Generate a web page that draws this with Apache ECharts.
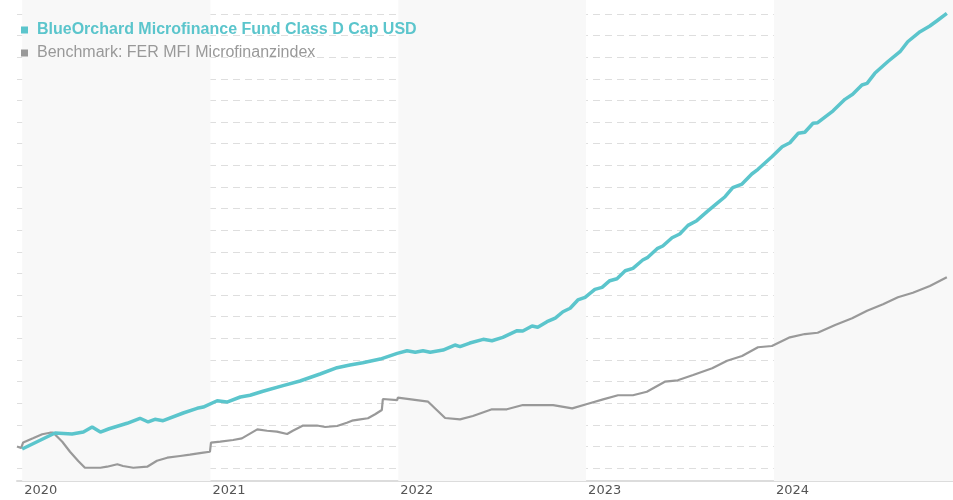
<!DOCTYPE html>
<html>
<head>
<meta charset="utf-8">
<title>BlueOrchard Microfinance Fund</title>
<script src="https://cdn.jsdelivr.net/npm/echarts@6/dist/echarts.min.js"></script>
<style>
  html, body { margin: 0; padding: 0; background: #fff; }
  #chart { width: 953px; height: 500px; }
</style>
</head>
<body>
<div id="chart"></div>
<script>
// Fonds (blau), Werte
var fundDates = [
  '2020-01-01','2020-03-05','2020-04-07','2020-04-29','2020-05-16','2020-06-01','2020-06-18','2020-07-23','2020-08-17','2020-09-02','2020-09-15','2020-10-01','2020-11-09','2020-12-06','2020-12-18',
  '2021-01-14','2021-02-02','2021-02-28','2021-03-19','2021-04-13','2021-05-22','2021-06-24','2021-08-02','2021-09-04','2021-09-29','2021-10-24','2021-11-27','2021-12-30',
  '2022-01-18','2022-02-03','2022-02-18','2022-03-04','2022-03-29','2022-04-21','2022-05-01','2022-05-20','2022-06-15','2022-07-02','2022-07-23','2022-08-20','2022-08-31','2022-09-18','2022-09-29','2022-10-17','2022-11-02','2022-11-17','2022-12-01','2022-12-16','2022-12-30',
  '2023-01-18','2023-02-01','2023-02-16','2023-03-02','2023-03-18','2023-04-02','2023-04-21','2023-05-01','2023-05-19','2023-05-30','2023-06-17','2023-07-02','2023-07-18','2023-08-04','2023-08-24','2023-09-14','2023-09-28','2023-10-13','2023-10-31','2023-11-19','2023-12-01','2023-12-28',
  '2024-01-17','2024-02-01','2024-02-17','2024-03-01','2024-03-17','2024-03-26','2024-04-25','2024-05-18','2024-06-02','2024-06-20','2024-06-30','2024-07-15','2024-08-09','2024-09-02','2024-09-17','2024-10-11','2024-10-30','2024-11-13','2024-12-02'
];
var fundValues = [
  99.70,101.55,101.43,101.66,102.24,101.66,102.04,102.67,103.25,102.82,103.13,102.97,103.86,104.40,104.55,
  105.28,105.13,105.71,105.91,106.37,107.02,107.56,108.37,109.10,109.41,109.68,110.10,110.76,
  111.06,110.88,111.06,110.88,111.14,111.72,111.53,111.95,112.38,112.22,112.61,113.38,113.34,113.92,113.77,114.42,114.84,115.57,115.97,116.93,117.24,
  118.16,118.39,119.16,119.39,120.31,120.59,121.55,121.86,122.86,123.17,124.13,124.56,125.56,126.10,127.14,128.18,128.87,129.91,130.34,131.50,132.04,133.50,
  134.65,135.11,136.20,136.32,137.36,137.43,138.81,140.13,140.71,141.79,141.98,143.14,144.48,145.64,146.79,147.95,148.61,149.22,150.08
];

// Benchmark (grau)
var benchDates = [
  '2019-12-22','2019-12-30','2020-01-03','2020-01-22','2020-02-09','2020-02-24','2020-03-01','2020-03-19','2020-04-03','2020-04-19','2020-05-02','2020-06-01','2020-06-14','2020-07-04','2020-07-15','2020-08-04','2020-08-31','2020-09-19','2020-10-09','2020-11-03','2020-11-22','2020-12-18','2020-12-31',
  '2021-01-02','2021-01-20','2021-02-14','2021-03-03','2021-04-02','2021-04-21','2021-05-10','2021-05-30','2021-06-10','2021-06-30','2021-07-27','2021-08-12','2021-09-04','2021-09-23','2021-10-03','2021-10-19','2021-11-03','2021-11-17','2021-11-30','2021-12-02','2021-12-30','2021-12-31',
  '2022-02-28','2022-04-02','2022-05-01','2022-05-26','2022-07-02','2022-07-31','2022-08-31','2022-10-29','2022-12-05',
  '2023-01-03','2023-02-03','2023-03-04','2023-04-02','2023-04-29','2023-06-03','2023-06-28','2023-07-28','2023-09-03','2023-10-02','2023-10-31','2023-12-01','2023-12-28',
  '2024-02-01','2024-03-01','2024-03-26','2024-04-29','2024-06-01','2024-06-30','2024-07-31','2024-08-29','2024-09-27','2024-10-30','2024-12-02'
];
var benchValues = [
  99.99,99.81,100.45,100.93,101.40,101.58,101.60,100.54,99.38,98.31,97.53,97.53,97.65,97.93,97.73,97.53,97.65,98.34,98.69,98.89,99.04,99.27,99.38,
  100.43,100.54,100.74,100.93,101.97,101.81,101.70,101.43,101.81,102.41,102.41,102.24,102.36,102.74,102.97,103.13,103.25,103.71,104.21,105.48,105.36,105.63,
  105.17,103.28,103.13,103.51,104.29,104.29,104.78,104.78,104.40,
  104.90,105.44,105.91,105.91,106.32,107.48,107.64,108.25,109.03,109.91,110.45,111.46,111.61,
  112.61,112.99,113.14,114.04,114.81,115.69,116.43,117.24,117.77,118.54,119.55
];

var yearTicks = ['2020-01-01','2021-01-01','2022-01-01','2023-01-01','2024-01-01'];
var yearLabels = ['2020','2021','2022','2023','2024'];
var shadedYears = [['2020-01-01','2021-01-01'],['2022-01-01','2023-01-01'],['2024-01-01','2024-12-14']];

var xMin = '2019-12-22';
var xMax = '2024-12-14';

var fundName = 'BlueOrchard Microfinance Fund Class D Cap USD';
var benchName = 'Benchmark: FER MFI Microfinanzindex';

function toTime(s) {
  return echarts.number.parseDate(s).getTime();
}

var tickTimes = yearTicks.map(toTime);

var myChart = echarts.init(document.getElementById('chart'));

var option = {
  animation: false,
  backgroundColor: '#fff',
  legend: {
    orient: 'vertical',
    left: 21,
    top: 21,
    padding: 0,
    icon: 'rect',
    itemWidth: 7,
    itemHeight: 7,
    itemGap: 5,
    selectedMode: false,
    textStyle: {
      fontFamily: 'Liberation Sans, Arial, sans-serif',
      fontSize: 16,
      lineHeight: 18,
      padding: [0, 0, 0, 4]
    },
    data: [
      { name: fundName, textStyle: { color: '#5bc5cc', fontWeight: 'bold' } },
      { name: benchName, textStyle: { color: '#999' } }
    ]
  },
  grid: [
    // Jahresbaender + x-Achse
    { left: 17, right: 0, top: 0, bottom: 19 },
    // Linien + Gitter
    { left: 17, right: 0, top: 14, bottom: 32 }
  ],
  xAxis: [
    {
      type: 'value',
      gridIndex: 0,
      min: toTime(xMin),
      max: toTime(xMax),
      axisLine: { show: true, lineStyle: { color: '#dcdcdc', width: 2 } },
      axisTick: { show: false },
      splitLine: { show: false },
      axisLabel: {
        customValues: tickTimes,
        formatter: function (val) {
          var i = tickTimes.indexOf(val);
          return i >= 0 ? yearLabels[i] : '';
        },
        align: 'left',
        padding: [0, 0, 0, 2],
        margin: 3,
        color: '#555',
        fontSize: 13,
        fontFamily: 'DejaVu Sans, Verdana, sans-serif'
      }
    },
    {
      type: 'value',
      gridIndex: 1,
      min: toTime(xMin),
      max: toTime(xMax),
      show: false
    }
  ],
  yAxis: [
    { type: 'value', gridIndex: 0, min: 0, max: 1, show: false },
    {
      type: 'value',
      gridIndex: 1,
      min: 97.5,
      max: 150,
      interval: 2.5,
      z: 1,
      axisLine: { show: false },
      axisTick: { show: false },
      axisLabel: { show: false },
      splitLine: {
        show: true,
        lineStyle: { color: '#dedede', width: 1, type: [7, 5] }
      }
    }
  ],
  series: [
    {
      name: 'bands',
      type: 'line',
      xAxisIndex: 0,
      yAxisIndex: 0,
      z: -1,
      data: [],
      silent: true,
      markArea: {
        silent: true,
        itemStyle: { color: '#f8f8f8' },
        data: shadedYears.map(function (b) {
          return [{ xAxis: toTime(b[0]) }, { xAxis: toTime(b[1]) }];
        })
      }
    },
    {
      name: benchName,
      type: 'line',
      xAxisIndex: 1,
      yAxisIndex: 1,
      z: 3,
      clip: false,
      showSymbol: false,
      color: '#999',
      lineStyle: { color: '#999', width: 2.2 },
      data: benchDates.map(function (d, i) { return [toTime(d), benchValues[i]]; })
    },
    {
      name: fundName,
      type: 'line',
      xAxisIndex: 1,
      yAxisIndex: 1,
      z: 4,
      clip: false,
      showSymbol: false,
      color: '#5bc5cc',
      lineStyle: { color: '#5bc5cc', width: 3.5 },
      data: fundDates.map(function (d, i) { return [toTime(d), fundValues[i]]; })
    }
  ]
};

myChart.setOption(option);
</script>
</body>
</html>
